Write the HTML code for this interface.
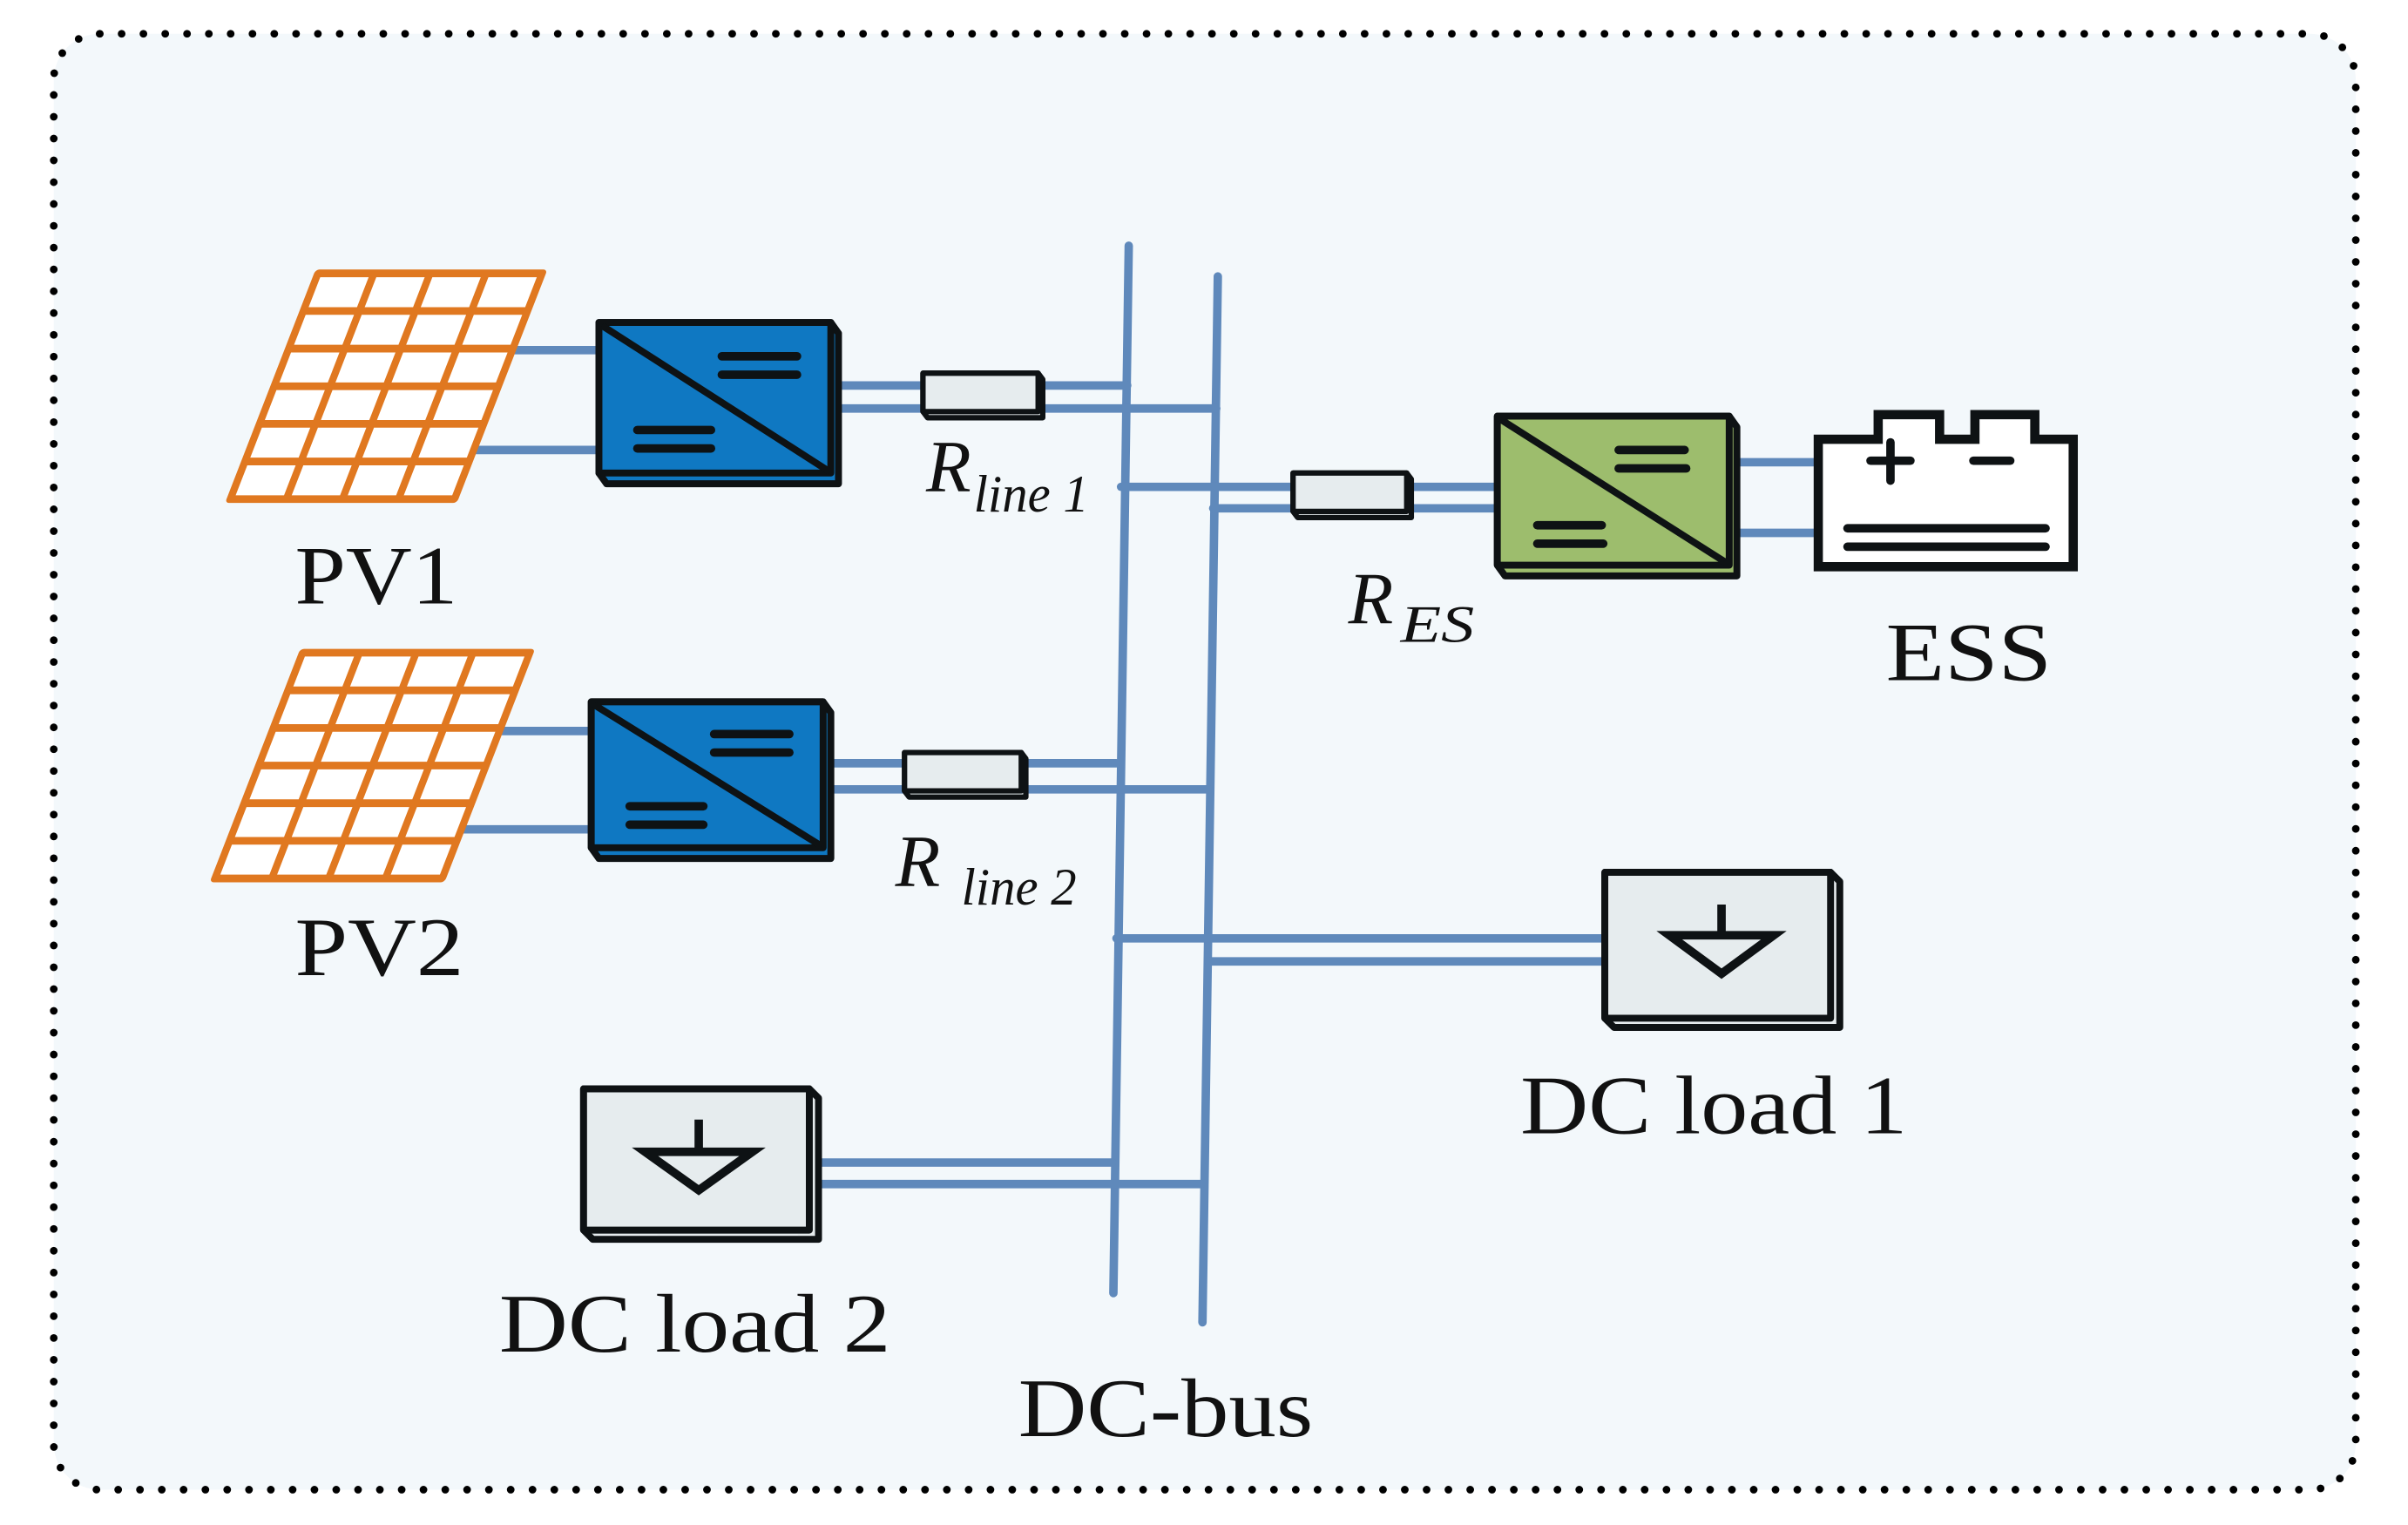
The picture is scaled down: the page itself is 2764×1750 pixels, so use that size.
<!DOCTYPE html>
<html><head><meta charset="utf-8"><style>
html,body{margin:0;padding:0;background:#fff;}
svg{display:block;}
text{font-family:"Liberation Serif","Times New Roman",serif;fill:#111;}
</style></head><body>
<svg width="2764" height="1750" viewBox="0 0 1568 993" preserveAspectRatio="none" xmlns="http://www.w3.org/2000/svg">
<rect x="35" y="22" width="1499" height="948" rx="30" fill="#f3f8fb" stroke="#000" stroke-width="5" stroke-dasharray="0 14.2" stroke-linecap="round"/>

<g stroke="#5f89bb" stroke-width="5.5" fill="none" stroke-linecap="round">
<line x1="735" y1="160" x2="725" y2="842"/>
<line x1="793" y1="180" x2="783" y2="861"/>
<line x1="330" y1="228" x2="392" y2="228"/>
<line x1="310" y1="293" x2="392" y2="293"/>
<line x1="545" y1="251" x2="734" y2="251"/>
<line x1="545" y1="266" x2="792" y2="266"/>
<line x1="322" y1="476" x2="387" y2="476"/>
<line x1="300" y1="540" x2="387" y2="540"/>
<line x1="540" y1="497" x2="727" y2="497"/>
<line x1="540" y1="514" x2="787" y2="514"/>
<line x1="730" y1="317" x2="977" y2="317"/>
<line x1="790" y1="331" x2="977" y2="331"/>
<line x1="1130" y1="301" x2="1184" y2="301"/>
<line x1="1130" y1="347" x2="1184" y2="347"/>
<line x1="727" y1="611" x2="1047" y2="611"/>
<line x1="787" y1="626" x2="1047" y2="626"/>
<line x1="533" y1="757" x2="724" y2="757"/>
<line x1="533" y1="771" x2="782" y2="771"/>
</g>

<g stroke="#e07820" stroke-width="5" fill="#fff" stroke-linejoin="round">
<g transform="translate(207,178) skewX(-21.2)">
<rect x="0" y="0" width="146" height="147"/>
<path d="M36.5 0V147M73 0V147M109.5 0V147M0 24.5H146M0 49H146M0 73.5H146M0 98H146M0 122.5H146" fill="none"/>
</g>
<g transform="translate(197,425) skewX(-21.2)">
<rect x="0" y="0" width="148" height="147"/>
<path d="M37 0V147M74 0V147M111 0V147M0 24.5H148M0 49H148M0 73.5H148M0 98H148M0 122.5H148" fill="none"/>
</g>
</g>

<g stroke="#0e1214" stroke-width="4.5" stroke-linejoin="round">
<g transform="translate(390,210)">
<path d="M0 0H151L156 7V105H5L0 98Z" fill="#0f78c2"/>
<rect x="0" y="0" width="151" height="98" fill="#0f78c2"/>
<line x1="2" y1="2" x2="150" y2="97"/>
<g stroke-width="5.5" stroke-linecap="round">
<line x1="80" y1="22" x2="129" y2="22"/>
<line x1="80" y1="34" x2="129" y2="34"/>
<line x1="25" y1="70" x2="73" y2="70"/>
<line x1="25" y1="82" x2="73" y2="82"/>
</g>
</g>
<g transform="translate(385,457)">
<path d="M0 0H151L156 7V102H5L0 95Z" fill="#0f78c2"/>
<rect x="0" y="0" width="151" height="95" fill="#0f78c2"/>
<line x1="2" y1="2" x2="150" y2="94"/>
<g stroke-width="5.5" stroke-linecap="round">
<line x1="80" y1="21" x2="129" y2="21"/>
<line x1="80" y1="33" x2="129" y2="33"/>
<line x1="25" y1="68" x2="73" y2="68"/>
<line x1="25" y1="80" x2="73" y2="80"/>
</g>
</g>
<g transform="translate(975,271)">
<path d="M0 0H151L156 7V104H5L0 97Z" fill="#9dbd6d"/>
<rect x="0" y="0" width="151" height="97" fill="#9dbd6d"/>
<line x1="2" y1="2" x2="150" y2="96"/>
<g stroke-width="5.5" stroke-linecap="round">
<line x1="79" y1="22" x2="122" y2="22"/>
<line x1="79" y1="34" x2="123" y2="34"/>
<line x1="26" y1="71" x2="68" y2="71"/>
<line x1="26" y1="83" x2="69" y2="83"/>
</g>
</g>
</g>

<g stroke="#0e1214" stroke-width="3.5" fill="#e6ecee" stroke-linejoin="round">
<path d="M601 243H676L679 247V272H604L601 268Z"/><rect x="601" y="243" width="75" height="25"/>
<path d="M589 490H665L668 494V519H592L589 515Z"/><rect x="589" y="490" width="76" height="25"/>
<path d="M842 308H916L919 312V337H845L842 333Z"/><rect x="842" y="308" width="74" height="25"/>
</g>

<g stroke="#0e1214" fill="#fff">
<path d="M1184 286H1223V270H1263V286H1286V270H1325V286H1350V369H1184Z" stroke-width="6"/>
<g stroke-width="5.5" stroke-linecap="round">
<line x1="1218" y1="300" x2="1244" y2="300"/>
<line x1="1231" y1="288" x2="1231" y2="313"/>
<line x1="1285" y1="300" x2="1309" y2="300"/>
<line x1="1203" y1="344" x2="1332" y2="344"/>
<line x1="1203" y1="356" x2="1332" y2="356"/>
</g>
</g>

<g stroke="#0e1214" stroke-width="4.5" fill="#e6ecee" stroke-linejoin="round">
<path d="M1045 568H1192L1198 574V669H1051L1045 663Z"/>
<rect x="1045" y="568" width="147" height="95"/>
<path d="M380 709H527L533 715V807H386L380 801Z"/>
<rect x="380" y="709" width="147" height="92"/>
</g>
<g stroke="#0e1214" stroke-width="5.5" fill="none">
<line x1="1121" y1="589" x2="1121" y2="609"/>
<path d="M1087 609H1155L1121 634Z" stroke-linejoin="miter"/>
<line x1="455" y1="729" x2="455" y2="750"/>
<path d="M420 750H490L455 775Z"/>
</g>

<text x="192" y="393" font-size="54" textLength="106" lengthAdjust="spacingAndGlyphs">PV1</text>
<text x="192" y="635" font-size="54" textLength="110" lengthAdjust="spacingAndGlyphs">PV2</text>
<text x="1228" y="443" font-size="54" textLength="108" lengthAdjust="spacingAndGlyphs">ESS</text>
<text x="990" y="738" font-size="54" textLength="252" lengthAdjust="spacingAndGlyphs">DC load 1</text>
<text x="325" y="880" font-size="54" textLength="255" lengthAdjust="spacingAndGlyphs">DC load 2</text>
<text x="663" y="935" font-size="54" textLength="192" lengthAdjust="spacingAndGlyphs">DC-bus</text>
<text x="603" y="320" font-size="48" font-style="italic">R</text>
<text x="634" y="333" font-size="34" font-style="italic" textLength="75" lengthAdjust="spacingAndGlyphs">line 1</text>
<text x="583" y="577" font-size="48" font-style="italic">R</text>
<text x="626" y="589" font-size="34" font-style="italic" textLength="75" lengthAdjust="spacingAndGlyphs">line 2</text>
<text x="878" y="406" font-size="48" font-style="italic">R</text>
<text x="912" y="418" font-size="34" font-style="italic" textLength="48" lengthAdjust="spacingAndGlyphs">ES</text>
</svg>
</body></html>
